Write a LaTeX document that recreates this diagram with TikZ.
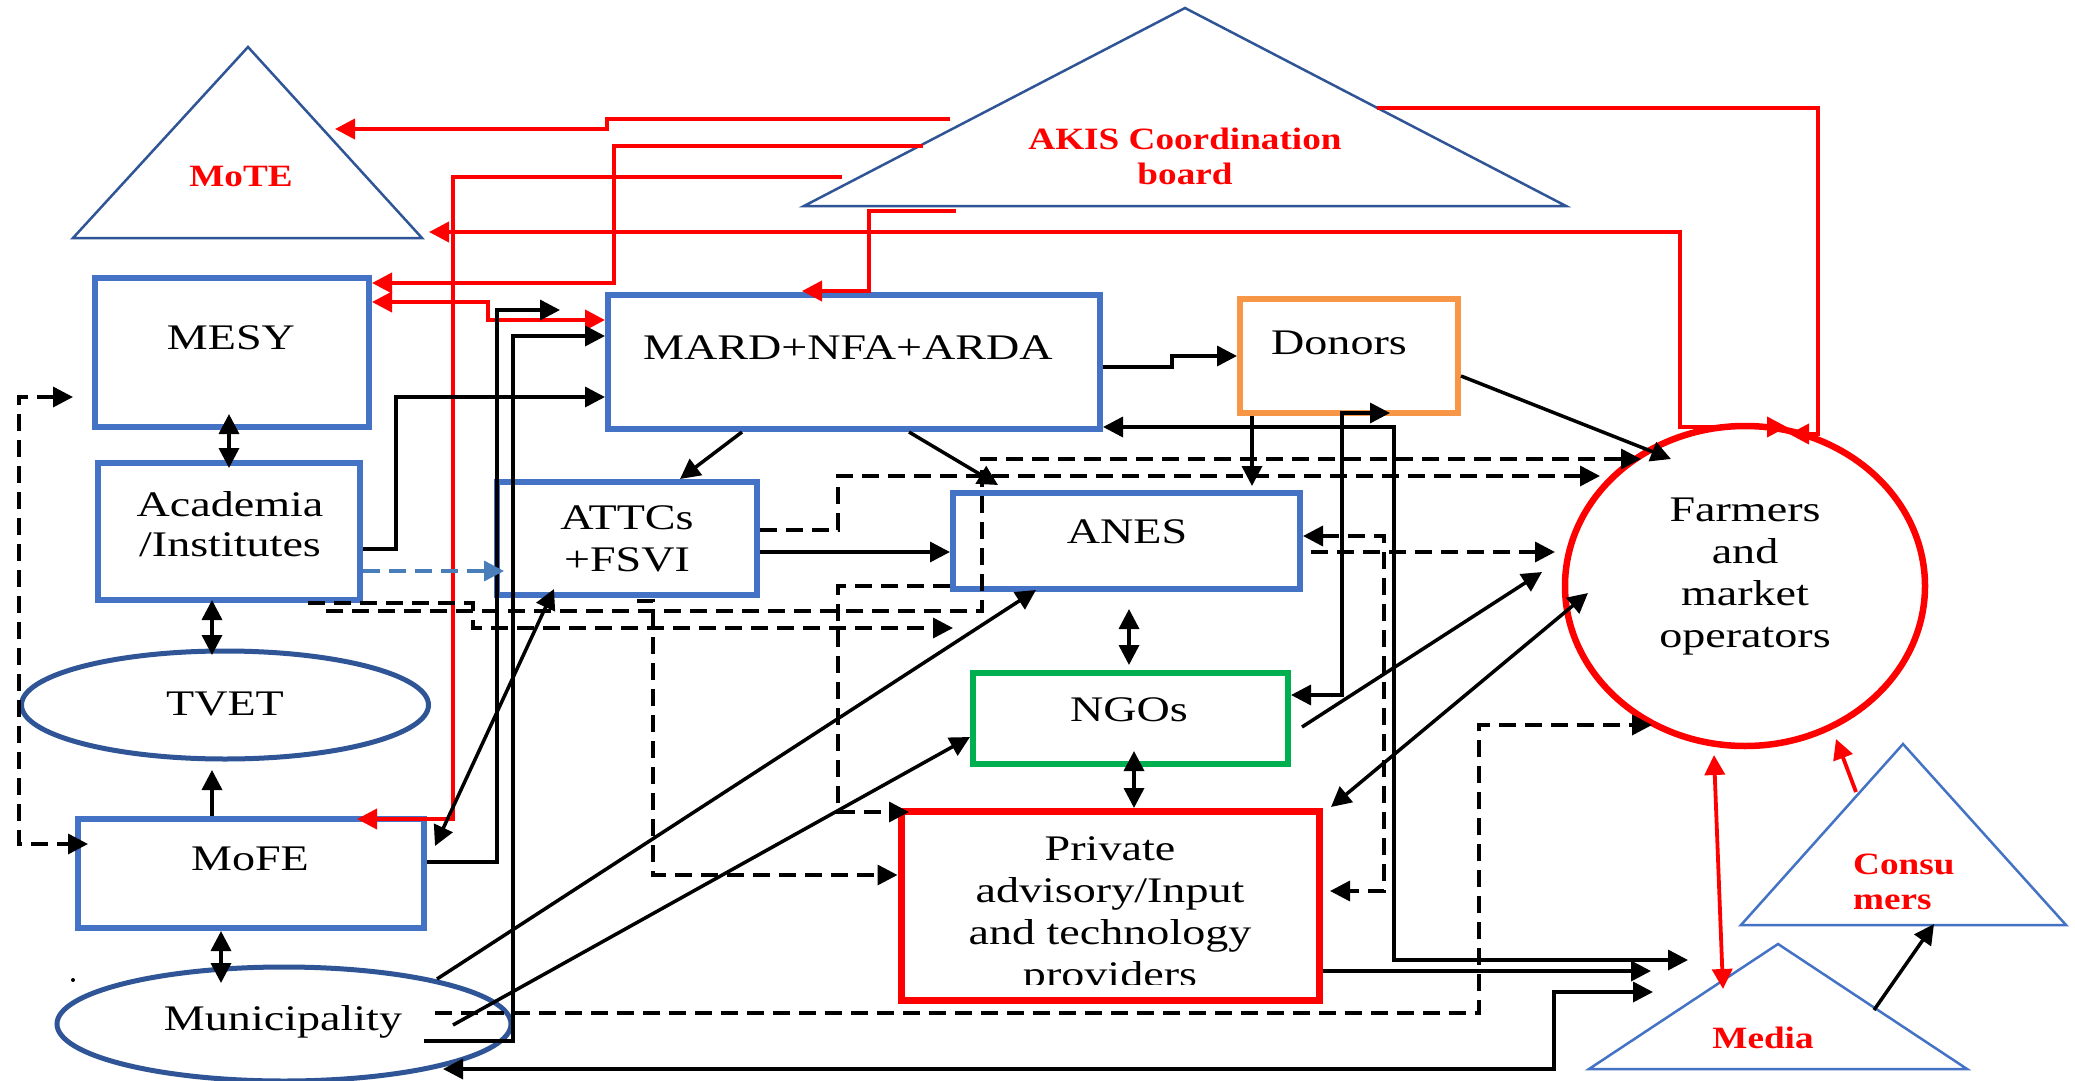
\documentclass[tikz,border=0pt]{standalone}
\usepackage{fontspec}
\setmainfont{Liberation Serif}
\usepackage{graphicx}
\usetikzlibrary{arrows.meta,shapes.geometric,calc}
\definecolor{boxblue}{HTML}{4472C4}
\definecolor{triblue}{HTML}{2F5597}
\definecolor{lightri}{HTML}{4472C4}
\definecolor{ngogreen}{HTML}{00B050}
\definecolor{donorange}{HTML}{F79646}
\definecolor{dashblue}{HTML}{4A7EBB}
\newcommand\sx[1]{\scalebox{1.28}[1]{#1}}
\newcommand\rx[1]{\scalebox{1.2}[1]{#1}}
\begin{document}
\begin{tikzpicture}[x=1pt,y=-1pt,
  >={Triangle[length=20pt,width=20pt]},
  line join=miter,
  bx/.style={draw, rectangle, line width=6pt, inner sep=0pt},
  ell/.style={draw=triblue, ellipse, line width=5pt, inner sep=0pt},
  tri/.style={draw=triblue, line width=2.5pt},
  ltri/.style={draw=lightri, line width=2.5pt},
  txt/.style={font=\fontsize{36}{42}\selectfont, align=center, inner sep=0pt},
  rtxt/.style={font=\fontsize{31}{35}\selectfont\bfseries, text=red, align=center, inner sep=0pt},
  blk/.style={draw=black, line width=3.5pt},
  dsh/.style={draw=black, line width=3.5pt, dash pattern=on 17pt off 9pt},
  rd/.style={draw=red, line width=3.8pt}]
\fill[white] (0,0) rectangle (2075,1081);
\useasboundingbox (0,0) rectangle (2075,1081);

% triangles
\draw[tri] (248,47) -- (422,238) -- (73,238) -- cycle;
\node[rtxt] (mote) at (241,177) {\rx{MoTE}};
\draw[tri] (1185,8) -- (1566,206) -- (804,206) -- cycle;
\node[rtxt] (akis) at (1185,156) {\rx{AKIS Coordination}\\\rx{board}};
\draw[ltri] (1903,744) -- (2066,925) -- (1741,925) -- cycle;
\node[rtxt, align=left, anchor=west] (cons) at (1853,882) {\rx{Consu}\\\rx{mers}};
\draw[ltri] (1778,944) -- (1967,1069) -- (1589,1069) -- cycle;
\node[rtxt] (media) at (1763,1038) {\rx{Media}};

% boxes
\node[bx, draw=boxblue, minimum width=274pt, minimum height=149pt] (mesy) at (232,352.5) {};
\node[txt] (mesyT) at (231,338) {\sx{MESY}};
\node[bx, draw=boxblue, minimum width=262pt, minimum height=137pt] (acad) at (229,531.5) {};
\node[txt, font=\fontsize{36}{40}\selectfont] (acadT) at (230,524) {\sx{Academia}\\\sx{/Institutes}};
\node[bx, draw=boxblue, minimum width=492pt, minimum height=134pt] (mard) at (854,362) {};
\node[txt] (mardT) at (848,348) {\sx{MARD+NFA+ARDA}};
\node[bx, draw=donorange, minimum width=218pt, minimum height=114pt] (donors) at (1349,356) {};
\node[txt] (donorsT) at (1339,343) {\sx{Donors}};
\node[bx, draw=boxblue, minimum width=260pt, minimum height=113pt] (attcs) at (627,538.5) {};
\node[txt] (attcsT) at (627,539) {\sx{ATTCs}\\\sx{+FSVI}};
\node[bx, draw=boxblue, minimum width=347pt, minimum height=96pt] (anes) at (1126.5,541) {};
\node[txt] (anesT) at (1127,532) {\sx{ANES}};
\node[bx, draw=ngogreen, minimum width=315pt, minimum height=91pt] (ngos) at (1130.5,718.5) {};
\node[txt] (ngosT) at (1129,710) {\sx{NGOs}};
\node[bx, draw=red, line width=7pt, minimum width=418pt, minimum height=189pt] (priv) at (1110,905.5) {};
\begin{scope}
\clip (901,811) rectangle (1319,984);
\node[txt] (privT) at (1110,915) {\sx{Private}\\\sx{advisory/Input}\\\sx{and technology}\\\sx{providers}};
\end{scope}
\node[bx, draw=boxblue, minimum width=346pt, minimum height=109pt] (mofe) at (251,873.5) {};
\node[txt] (mofeT) at (250,859) {\sx{MoFE}};
\node[ell, minimum width=407pt, minimum height=108pt] (tvet) at (225,705) {};
\node[txt] (tvetT) at (225,704) {\sx{TVET}};
\node[ell, minimum width=454pt, minimum height=114pt] (muni) at (284,1024) {};
\node[txt] (muniT) at (283,1022) {\sx{Municipality}};
\node[draw=red, ellipse, line width=6.5pt, inner sep=0pt, minimum width=360pt, minimum height=320pt] (farm) at (1745,586) {};
\node[txt] (farmT) at (1745,577) {\sx{Farmers}\\\sx{and}\\\sx{market}\\\sx{operators}};
\fill (73,980) circle (2pt);

% red connectors
\draw[rd,->] (950,119) -- (607,119) -- (607,129) -- (335,129);
\draw[rd,->] (923,146) -- (614,146) -- (614,283) -- (mesy.east |- 0,283);
\draw[rd,->] (842,177) -- (453,177) -- (453,819) -- (357,819);
\draw[rd,->] (956,211) -- (869,211) -- (869,291) -- (802,291);
\draw[rd,<->] (429,232) -- (1680,232) -- (1680,427) -- (1787,427);
\draw[rd,->] (1377,108) -- (1818,108) -- (1818,434) -- (1789,434);
\draw[rd,<->] (mesy.east |- 0,302) -- (488,302) -- (488,320) -- (mard.west |- 0,320);
\draw[rd,<->] (1714,755) -- (1723,989);
\draw[rd,->] (1856,792) -- (1836,739);

% black solid connectors
\draw[blk,<->] (mesy.south -| 229,0) ++(0,-16) -- (229,468);
\draw[blk,<->] (acad.south -| 212,0) ++(0,-3) -- (212,655);
\draw[blk,->] (mofe.north -| 212,0) -- (212,770);
\draw[blk,<->] (mofe.south -| 221,0) -- (221,983);
\draw[blk,->] (acad.east |- 0,549) -- (396,549) -- (396,397) -- (mard.west |- 0,397);
\draw[blk,->] (mofe.east |- 0,862) -- (497,862) -- (497,310) -- (560,310);
\draw[blk,->] (424,1041) -- (513,1041) -- (513,336) -- (mard.west |- 0,336);
\draw[blk,<->] (435,846) -- (554,589);
\draw[blk,->] (mard.south -| 742,0) -- (680,479);
\draw[blk,->] (mard.south -| 909,0) -- (998,485);
\draw[blk,->] (attcs.east |- 0,552) -- (anes.west |- 0,552);
\draw[blk,->] (mard.east |- 0,367) -- (1172,367) -- (1172,356) -- (donors.west |- 0,356);
\draw[blk,->] (donors.east |- 0,376) -- (1671,459);
\draw[blk,->] (donors.south -| 1252,0) -- (1252,486);
\draw[blk,<->] (mard.east |- 0,427) -- (1394,427) -- (1394,960) -- (1688,960);
\draw[blk,<->] (1390,413) -- (1342,413) -- (1342,695) -- (ngos.east |- 0,695);
\draw[blk,->] (1302,727) -- (1542,572);
\draw[blk,<->] (1331,807) -- (1588,593);
\draw[blk,<->] (1129,609) -- (1129,665);
\draw[blk,<->] (1134,751) -- (1134,808);
\draw[blk,->] (437,979) -- (1036,590);
\draw[blk,->] (453,1025) -- (970,737);
\draw[blk,->] (priv.east |- 0,971) -- (1651,971);
\draw[blk,<->] (443,1069) -- (1554,1069) -- (1554,992) -- (1653,992);
\draw[blk,->] (1874,1010) -- (1934,924);

% dashed connectors
\draw[dsh,<->] (73,397) -- (19,397) -- (19,844) -- (88,844);
\draw[dsh,draw=dashblue,->] (acad.east |- 0,571) -- (504,571);
\draw[dsh,->] (308,603) -- (473,603) -- (473,628) -- (953,628);
\draw[dsh,->] (326,611) -- (982,611) -- (982,459) -- (1641,459);
\draw[dsh,->] (637,601) -- (653,601) -- (653,875) -- (priv.west |- 0,875);
\draw[dsh,->] (attcs.east |- 0,530) -- (838,530) -- (838,476) -- (1600,476);
\draw[dsh,->] (anes.west |- 0,586) -- (838,586) -- (838,812) -- (909,812);
\draw[dsh,<->] (anes.east |- 0,536) -- (1384,536) -- (1384,891) -- (1330,891);
\draw[dsh,->] (1311,552) -- (1555,552);
\draw[dsh,->] (435,1013) -- (1479,1013) -- (1479,725) -- (1652,725);
\end{tikzpicture}
\end{document}
